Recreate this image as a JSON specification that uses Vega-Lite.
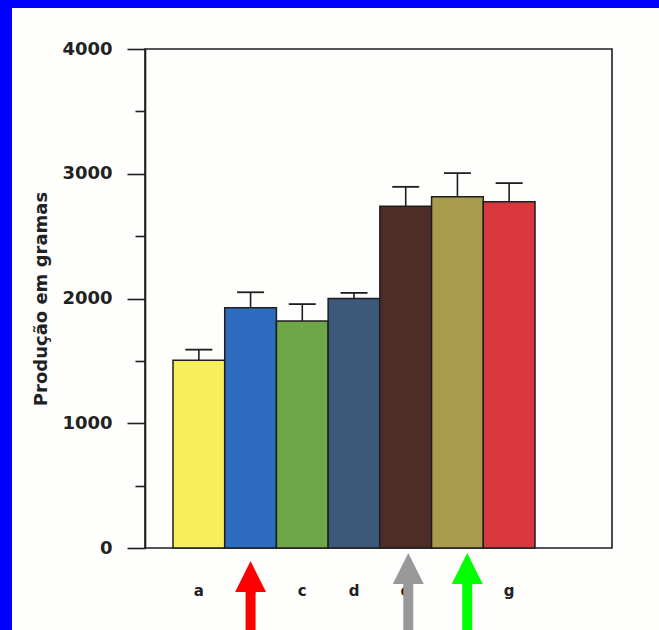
{
  "$schema": "https://vega.github.io/schema/vega-lite/v6.json",
  "width": 647,
  "height": 622,
  "autosize": {"type": "none"},
  "padding": {"left": 12, "top": 8, "right": 0, "bottom": 0},
  "background": "#0000fe",
  "config": {"view": {"fill": "#fefefd", "stroke": null}, "font": "DejaVu Sans"},
  "datasets": {
    "bars": [
      {"group": "a", "producao": 1505, "erro_sup": 1590},
      {"group": "b", "producao": 1925, "erro_sup": 2050},
      {"group": "c", "producao": 1820, "erro_sup": 1955},
      {"group": "d", "producao": 2000, "erro_sup": 2045},
      {"group": "e", "producao": 2740, "erro_sup": 2895},
      {"group": "f", "producao": 2815, "erro_sup": 3005},
      {"group": "g", "producao": 2775, "erro_sup": 2925}
    ],
    "arrows": [
      {"group": "b", "seta": "vermelha"},
      {"group": "e", "seta": "cinza"},
      {"group": "f", "seta": "verde"}
    ]
  },
  "resolve": {"scale": {"x": "independent"}},
  "layer": [
    {
      "data": {"values": [{}]},
      "mark": {"type": "rect", "fillOpacity": 0, "stroke": "#1e1e1e", "strokeWidth": 1.6},
      "encoding": {
        "x": {"datum": 0, "type": "quantitative", "scale": {"domain": [0, 1], "range": [133, 600]}, "axis": null},
        "x2": {"datum": 1},
        "y": {
          "datum": 0,
          "type": "quantitative",
          "scale": {"domain": [0, 4000], "range": [540, 41], "nice": false, "zero": true},
          "axis": {
            "orient": "left",
            "offset": -133,
            "values": [0, 500, 1000, 1500, 2000, 2500, 3000, 3500, 4000],
            "format": "d",
            "labelExpr": "datum.value % 1000 === 0 ? datum.label : ''",
            "tickSize": {"condition": {"test": "datum.value % 1000 === 0", "value": 18}, "value": 10},
            "tickColor": "#1e1e1e",
            "tickWidth": 1.6,
            "domainColor": "#1e1e1e",
            "domainWidth": 1.6,
            "grid": false,
            "labelFont": "DejaVu Sans",
            "labelFontWeight": "bold",
            "labelFontSize": 18,
            "labelColor": "#222222",
            "labelPadding": 15,
            "title": "Produção em gramas",
            "titleFont": "DejaVu Sans",
            "titleFontWeight": "bold",
            "titleFontSize": 18,
            "titleColor": "#222222",
            "titlePadding": 11
          }
        },
        "y2": {"datum": 4000}
      }
    },
    {
      "data": {"name": "bars"},
      "encoding": {
        "x": {
          "field": "group",
          "type": "nominal",
          "scale": {"domain": ["a", "b", "c", "d", "e", "f", "g"], "range": [161, 523], "paddingInner": 0, "paddingOuter": 0},
          "axis": {
            "orient": "bottom",
            "offset": -82,
            "domain": false,
            "ticks": false,
            "tickSize": 0,
            "labelPadding": 42,
            "labelBaseline": "middle",
            "labelAngle": 0,
            "labelExpr": "datum.label === 'f' ? '' : datum.label",
            "labelFont": "DejaVu Sans",
            "labelFontWeight": "bold",
            "labelFontSize": 15,
            "labelColor": "#222222",
            "title": null
          }
        }
      },
      "layer": [
        {
          "mark": {"type": "bar", "stroke": "#1e1e1e", "strokeWidth": 1.5},
          "encoding": {
            "y": {"field": "producao", "type": "quantitative", "title": "Produção em gramas"},
            "color": {
              "field": "group",
              "type": "nominal",
              "scale": {
                "domain": ["a", "b", "c", "d", "e", "f", "g"],
                "range": ["#f6ee5a", "#2d6cbf", "#6ea648", "#3d5879", "#4f2d27", "#a99b4b", "#d8383e"]
              },
              "legend": null
            }
          }
        },
        {
          "mark": {"type": "rule", "stroke": "#1e1e1e", "strokeWidth": 1.6},
          "encoding": {
            "y": {"field": "producao", "type": "quantitative", "title": "Produção em gramas"},
            "y2": {"field": "erro_sup"}
          }
        },
        {
          "mark": {"type": "tick", "color": "#1e1e1e", "thickness": 1.8, "size": 27, "opacity": 1},
          "encoding": {
            "y": {"field": "erro_sup", "type": "quantitative", "title": "Produção em gramas"}
          }
        },
        {
          "data": {"name": "arrows"},
          "transform": [{"filter": "datum.seta === 'vermelha'"}],
          "mark": {
            "type": "point",
            "shape": "M0,-1L0.344,-0.311L0.111,-0.311L0.111,1L-0.111,1L-0.111,-0.311L-0.344,-0.311Z",
            "size": 8100,
            "filled": true,
            "opacity": 1,
            "strokeWidth": 0
          },
          "encoding": {
            "y": {"datum": -465, "type": "quantitative"},
            "fill": {
              "field": "seta",
              "type": "nominal",
              "scale": {"domain": ["vermelha", "cinza", "verde"], "range": ["#ff0000", "#999999", "#00ff00"]},
              "legend": null
            }
          }
        },
        {
          "data": {"name": "arrows"},
          "transform": [{"filter": "datum.seta === 'cinza'"}],
          "mark": {
            "type": "point",
            "shape": "M0,-1L0.344,-0.311L0.111,-0.311L0.111,1L-0.111,1L-0.111,-0.311L-0.344,-0.311Z",
            "size": 8100,
            "filled": true,
            "opacity": 1,
            "strokeWidth": 0
          },
          "encoding": {
            "x": {"field": "group", "type": "nominal", "bandPosition": 0.55},
            "y": {"datum": -401, "type": "quantitative"},
            "fill": {
              "field": "seta",
              "type": "nominal",
              "scale": {"domain": ["vermelha", "cinza", "verde"], "range": ["#ff0000", "#999999", "#00ff00"]},
              "legend": null
            }
          }
        },
        {
          "data": {"name": "arrows"},
          "transform": [{"filter": "datum.seta === 'verde'"}],
          "mark": {
            "type": "point",
            "shape": "M0,-1L0.344,-0.311L0.111,-0.311L0.111,1L-0.111,1L-0.111,-0.311L-0.344,-0.311Z",
            "size": 8100,
            "filled": true,
            "opacity": 1,
            "strokeWidth": 0
          },
          "encoding": {
            "x": {"field": "group", "type": "nominal", "bandPosition": 0.69},
            "y": {"datum": -401, "type": "quantitative"},
            "fill": {
              "field": "seta",
              "type": "nominal",
              "scale": {"domain": ["vermelha", "cinza", "verde"], "range": ["#ff0000", "#999999", "#00ff00"]},
              "legend": null
            }
          }
        }
      ]
    }
  ]
}
